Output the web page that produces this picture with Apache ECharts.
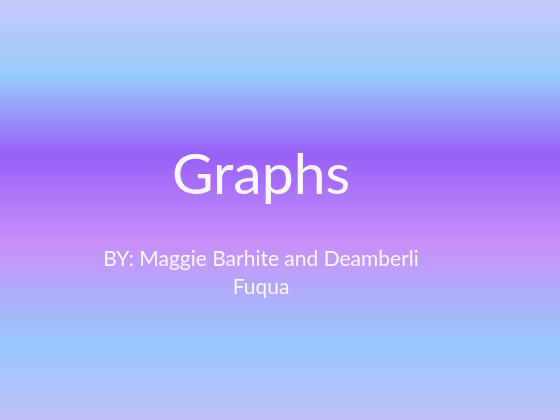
<!DOCTYPE html>
<html>
<head>
<meta charset="utf-8">
<script src="https://cdn.jsdelivr.net/npm/echarts@6/dist/echarts.min.js"></script>
<style>
  html, body { margin: 0; padding: 0; }
  #chart { width: 560px; height: 420px; }
</style>
</head>
<body>
<div id="chart"></div>
<script>
// slide text
const titleText = 'Graphs'
const bylineLines = ['BY: Maggie Barhite and Deamberli', 'Fuqua']

const chart = echarts.init(document.getElementById('chart'))

const bg = new echarts.graphic.LinearGradient(0, 0, 0, 1, [
    {offset: 0, color: '#c8c8fc'},
    {offset: 0.18, color: '#98ccfc'},
    {offset: 0.37, color: '#9860f8'},
    {offset: 0.58, color: '#c890f8'},
    {offset: 0.82, color: '#98c8fc'},
    {offset: 1, color: '#c0c0fc'}
])

let texts = [{
    type: 'text',
    style: {
        text: titleText,
        x: 261, y: 176,
        align: 'center', verticalAlign: 'middle',
        fill: '#fbf6ff',
        font: '57px Lato'
    }
}]
bylineLines.forEach((line, i) => {
    texts.push({
        type: 'text',
        style: {
            text: line,
            x: 261, y: 259 + i * 28,
            align: 'center', verticalAlign: 'middle',
            fill: '#fbf6ff',
            font: '21px Lato'
        }
    })
})

chart.setOption({
    backgroundColor: bg,
    graphic: texts
})
</script>
</body>
</html>
